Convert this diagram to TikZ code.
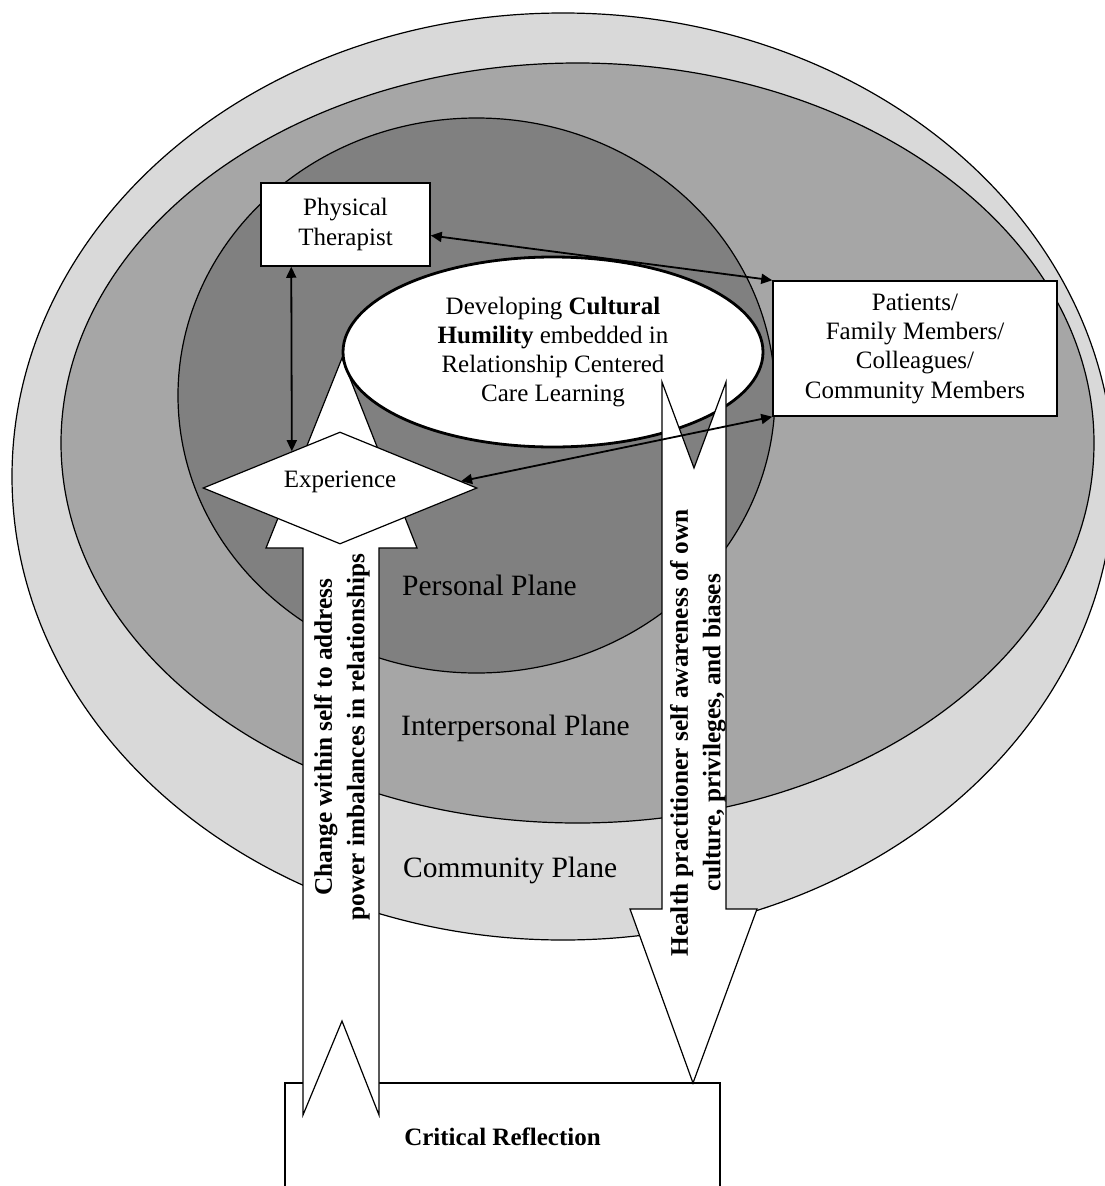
\documentclass[tikz,border=0pt]{standalone}
\usepackage{fontspec}
\setmainfont{Liberation Serif}
\usetikzlibrary{shapes.geometric,arrows.meta,calc}
\definecolor{ringlight}{HTML}{D9D9D9}
\definecolor{ringmid}{HTML}{A6A6A6}
\definecolor{ringdark}{HTML}{808080}
\begin{document}
\begin{tikzpicture}[x=1pt,y=-1pt,
  ring/.style={draw=black,line width=1.2pt},
  blockarrow/.style={draw=black,fill=white,line width=1.2pt,line join=miter},
  boxnode/.style={draw=black,fill=white,line width=1.5pt,align=center,font=\fontsize{25}{29.3}\selectfont,inner sep=0pt},
  link/.style={line width=1.8pt,{Triangle[length=11pt,width=10pt]}-{Triangle[length=11pt,width=10pt]}},
  plane/.style={anchor=base west,font=\fontsize{29.5}{34}\selectfont,inner sep=0pt},
  sidetext/.style={rotate=90,align=center,font=\bfseries\fontsize{25.3}{32.5}\selectfont,inner sep=0pt}
]
\useasboundingbox (0,0) rectangle (1105,1186);
\clip (0,0) rectangle (1105,1186);
% planes
\draw[ring,fill=ringlight] (563,476.5) ellipse [x radius=551pt, y radius=463.5pt];
\draw[ring,fill=ringmid] (577.5,443) ellipse [x radius=516.5pt, y radius=380pt];
\draw[ring,fill=ringdark] (476.5,395.5) ellipse [x radius=298.5pt, y radius=277.5pt];
% critical reflection box
\draw[line width=1.5pt] (303,1083) -- (285,1083) -- (285,1200);
\draw[line width=1.5pt] (379,1083) -- (720,1083) -- (720,1200);
\node[font=\bfseries\fontsize{25}{29}\selectfont,anchor=base,inner sep=0pt] (crit) at (502.5,1145) {Critical Reflection};
% upward block arrow
\draw[blockarrow] (342,358) -- (417,548) -- (379,548) -- (379,1115) -- (342,1021) -- (303,1115) -- (303,548) -- (266,548) -- cycle;
% core ellipse
\node[draw,ellipse,fill=white,line width=2.8pt,minimum width=420pt,minimum height=190pt,inner sep=0pt,align=center,font=\fontsize{25}{29}\selectfont] (core) at (553,352)
  {Developing \textbf{Cultural}\\\textbf{Humility} embedded in\\Relationship Centered\\Care Learning};
% downward block arrow
\draw[blockarrow] (662,382) -- (694,468) -- (726,382) -- (726,909) -- (757,909) -- (693,1083) -- (630,909) -- (662,909) -- cycle;
% experience diamond
\node[diamond,draw,fill=white,line width=1.2pt,minimum width=274pt,minimum height=112pt,inner sep=0pt] (exp) at (340,488) {};
\node[font=\fontsize{25}{29}\selectfont,inner sep=0pt] (exptext) at (340,482) {Experience};
% boxes
\node[boxnode,minimum width=169pt,minimum height=83pt] (pt) at (345.5,224.5) {Physical\\Therapist};
\node[boxnode,minimum width=284pt,minimum height=135pt] (pat) at (915,348.5) {Patients/\\Family Members/\\Colleagues/\\Community Members};
% connectors
\draw[link] ([xshift=31pt]pt.south west) -- ($(exp.north)!0.35!(exp.west)$);
\draw[link] ([yshift=-11pt]pt.east) -- (pat.north west);
\draw[link] ($(exp.east)!0.12!(exp.north)$) -- (pat.south west);
% plane labels
\node[plane] (personal) at (402,595) {Personal Plane};
\node[plane] (inter) at (401,735) {Interpersonal Plane};
\node[plane] (comm) at (403,877) {Community Plane};
% arrow texts
\node[sidetext] (lefttext) at (342,737) {Change within self to address\\power imbalances in relationships};
\node[sidetext] (righttext) at (698,733) {Health practitioner self awareness of own\\culture, privileges, and biases};
\end{tikzpicture}
\end{document}
